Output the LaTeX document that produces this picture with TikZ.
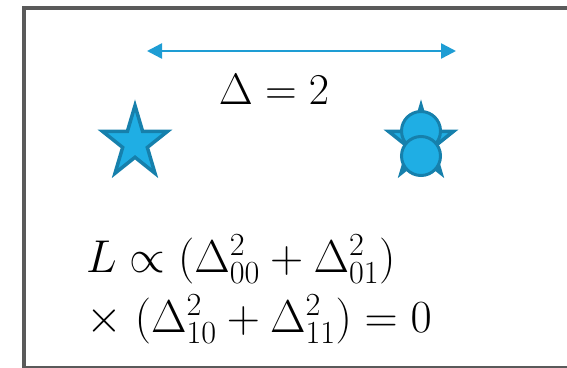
\RequirePackage{fix-cm}
\documentclass[tikz,border=0pt]{standalone}
\usetikzlibrary{shapes.geometric, arrows.meta, positioning}

\definecolor{markfill}{RGB}{31,174,228}
\definecolor{markdraw}{RGB}{22,128,172}
\definecolor{gapblue}{RGB}{30,157,212}
\definecolor{framegray}{RGB}{90,90,90}

\begin{document}
\begin{tikzpicture}[
    x=1pt, y=-1pt,
    font=\fontsize{44}{52}\selectfont,
    arrow/.style={{Triangle[length=15pt, width=15pt]}-{Triangle[length=15pt, width=15pt]},
        line width=2.5pt, color=gapblue},
]

% --- Style definitions ---
\tikzset{
    frame/.style = {draw=framegray, line width=4pt},
    pointstar/.style = {star, star points=5, star point ratio=2.618, minimum size=68pt,
        inner sep=0pt, fill=markfill, draw=markdraw, line width=3.5pt, transform shape},
    pointdot/.style = {circle, minimum size=39pt, inner sep=0pt,
        fill=markfill, draw=markdraw, line width=3pt},
    eqn/.style = {inner sep=0pt, anchor=base west, font=\fontsize{46}{54}\selectfont},
}

\useasboundingbox (0,0) rectangle (567,367);
\clip (0,0) rectangle (567,367);

% --- Frame ---
\draw [frame] (24,8) rectangle (620,368);

% --- Stars ---
\begin{scope}[shift={(135,143)}, yscale=1.1]
    \node (star-left) [pointstar] at (0,0) {};
\end{scope}
\begin{scope}[shift={(421,143)}, yscale=1.1]
    \node (star-right) [pointstar] at (0,0) {};
\end{scope}

% --- Points on the right star ---
\node (dot-top) [pointdot] at (421,131) {};
\node (dot-bottom) [pointdot] at (421,156) {};

% --- Distance arrow ---
\coordinate (gap-left) at (147,51);
\coordinate (gap-right) at (456,51);
\draw [arrow] (gap-left) -- (gap-right);
\node (gap) [anchor=base, inner sep=0pt] at (274,104) {$\Delta = 2$};

% --- Loss ---
\node (loss-top) [eqn] at (86,272) {$L \propto (\Delta_{00}^2 + \Delta_{01}^2)$};
\node (loss-bottom) [eqn] at ([yshift=-60pt]loss-top.base west)
    {$\times\;(\Delta_{10}^2 + \Delta_{11}^2) = 0$};

\end{tikzpicture}
\end{document}
